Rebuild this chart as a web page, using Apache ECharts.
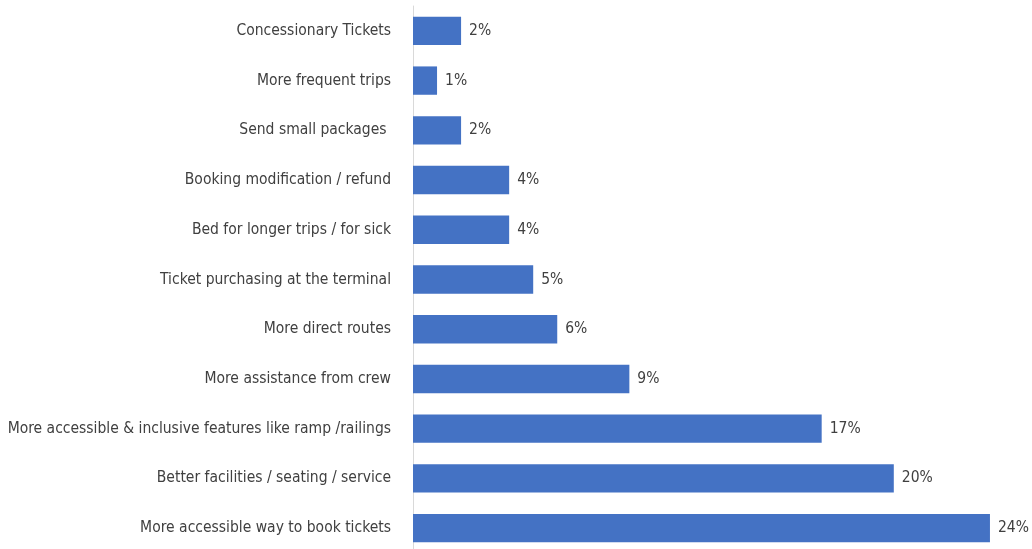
<!DOCTYPE html>
<html>
<head>
<meta charset="utf-8">
<script src="https://cdn.jsdelivr.net/npm/echarts@6/dist/echarts.min.js"></script>
<style>
  html, body { margin: 0; padding: 0; background: #fff; }
  #chart { width: 1032px; height: 549px; }
</style>
</head>
<body>
<div id="chart"></div>
<script>
// categories listed bottom to top (category axis starts at the bottom)
const categories = [
  'More accessible way to book tickets',
  'Better facilities / seating / service',
  'More accessible & inclusive features like ramp /railings',
  'More assistance from crew',
  'More direct routes',
  'Ticket purchasing at the terminal',
  'Bed for longer trips / for sick',
  'Booking modification / refund',
  'Send small packages ',
  'More frequent trips',
  'Concessionary Tickets'
];
const shares = [24, 20, 17, 9, 6, 5, 4, 4, 2, 1, 2];

const font = '"DejaVu Sans"';
// condensed width via the font shorthand
const stretch = 'condensed';

const chart = echarts.init(document.getElementById('chart'));
chart.setOption({
  animation: false,
  grid: { left: 413, top: 6, width: 601, height: 547, outerBoundsMode: 'none', containLabel: false },
  xAxis: {
    type: 'value',
    min: 0,
    max: 25,
    show: false
  },
  yAxis: {
    type: 'category',
    data: categories,
    axisLine: { show: true, lineStyle: { color: '#d9d9d9', width: 1 } },
    axisTick: { show: false },
    axisLabel: {
      margin: 22,
      color: '#404040',
      fontFamily: font,
      fontWeight: stretch,
      fontSize: 15.5
    }
  },
  series: [{
    type: 'bar',
    data: shares,
    barCategoryGap: '43%',
    itemStyle: { color: '#4472C4' },
    label: {
      show: true,
      position: 'right',
      distance: 8,
      formatter: '{c}%',
      color: '#404040',
      fontFamily: font,
      fontWeight: stretch,
      fontSize: 15.5
    }
  }]
});
</script>
</body>
</html>
